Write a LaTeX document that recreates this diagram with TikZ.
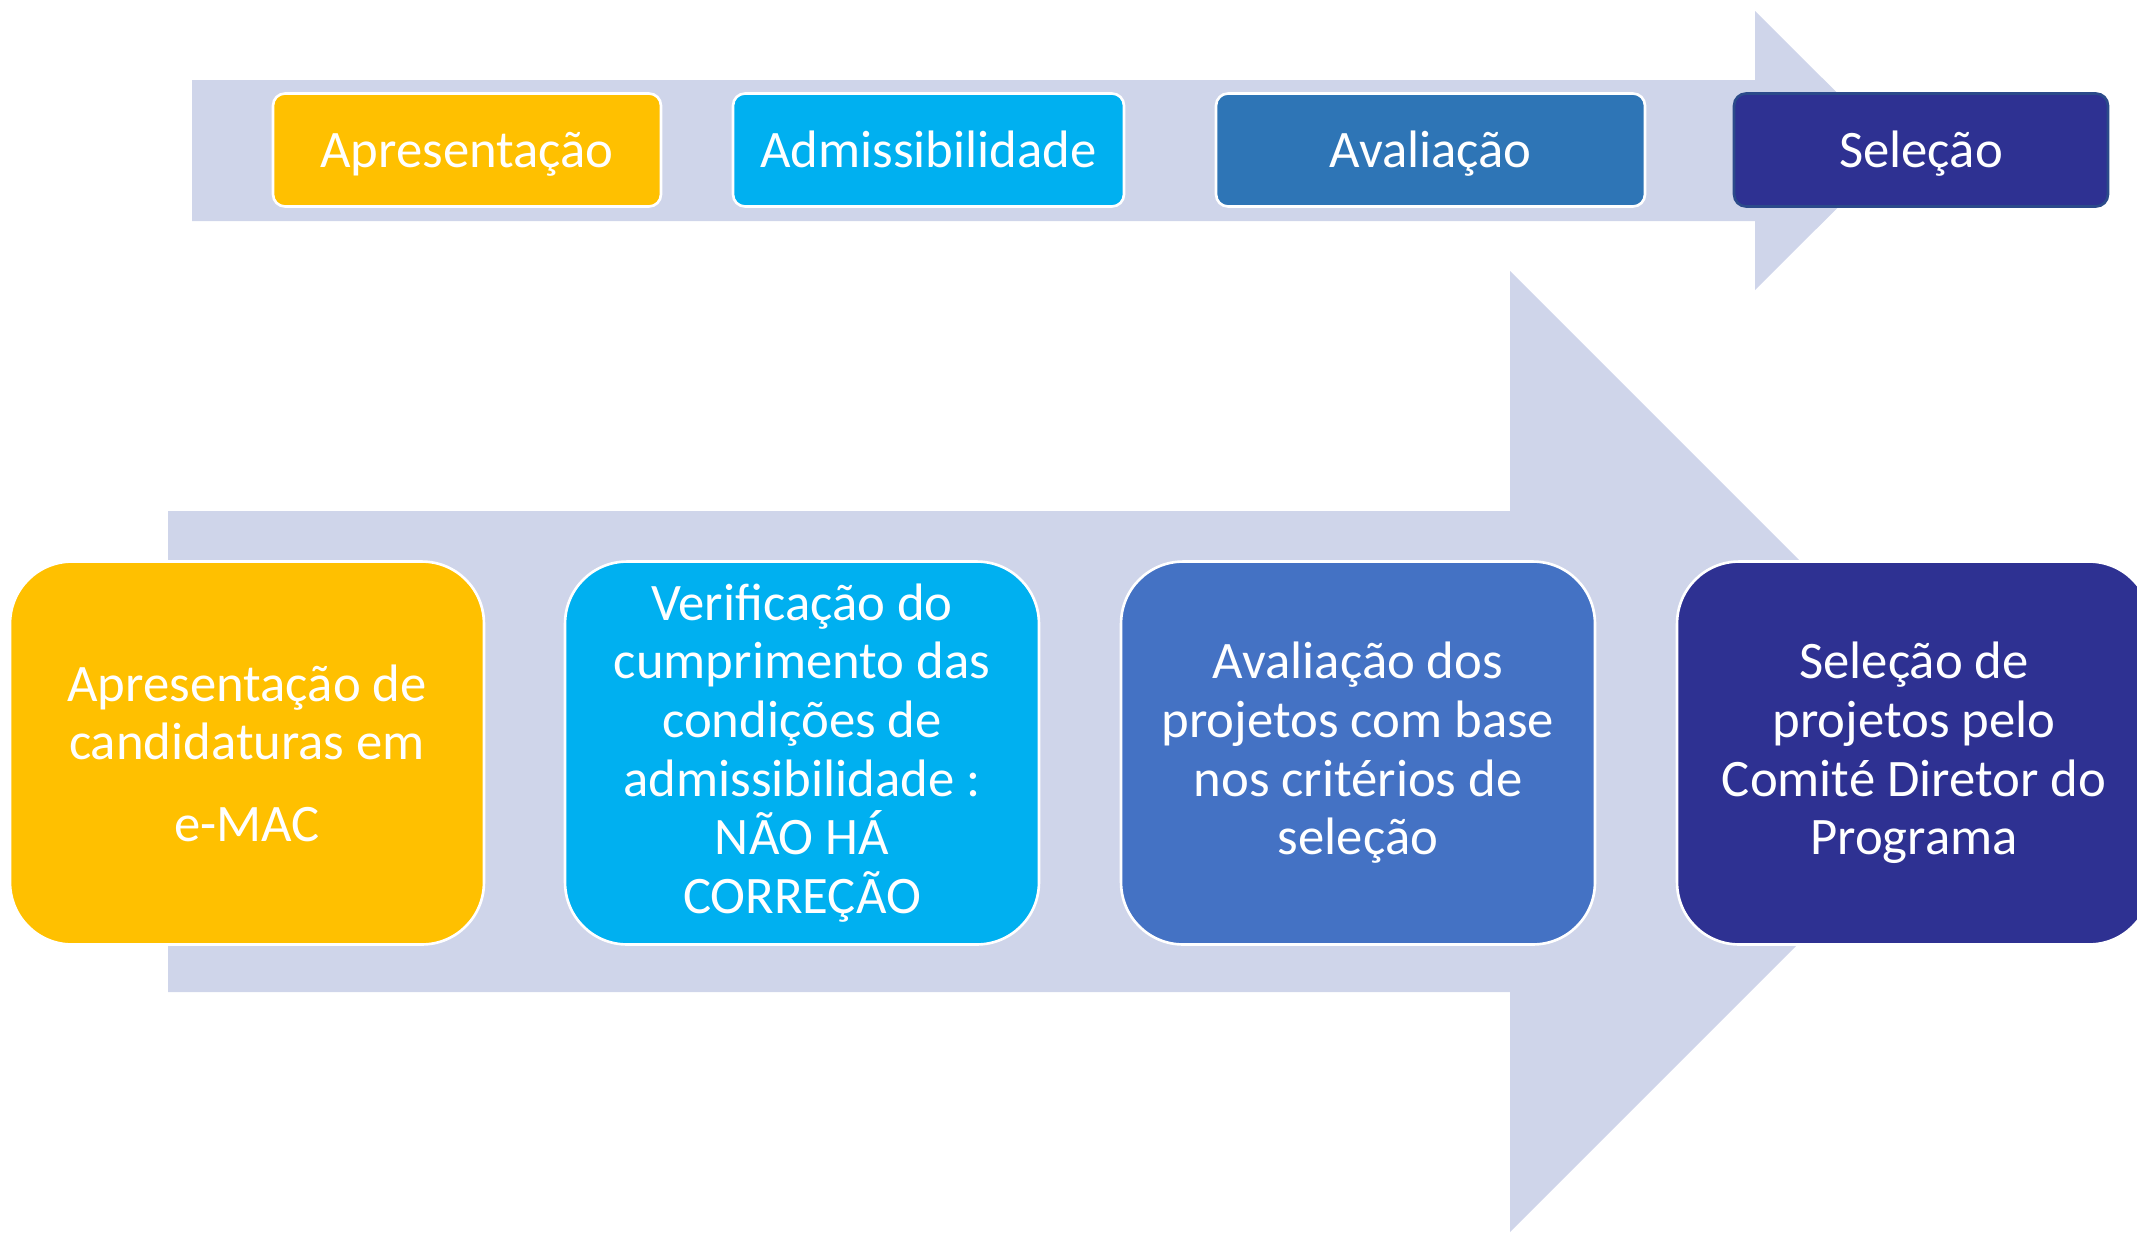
\documentclass[tikz,border=0pt]{standalone}
\usepackage{fontspec}
\setmainfont{Carlito}
\usepackage{tikz}
\usetikzlibrary{positioning}
\definecolor{seta}{HTML}{CFD5EA}
\definecolor{amarelo}{HTML}{FFC000}
\definecolor{ciano}{HTML}{00B0F0}
\definecolor{azul}{HTML}{2E75B6}
\definecolor{azulclaro}{HTML}{4472C4}
\definecolor{anil}{HTML}{2E3192}
\definecolor{contorno}{HTML}{2B4A8A}
\tikzset{fase/.style = {rounded corners = 0.24cm, line width = 1.5pt, text = white,
    minimum height = 2.26cm, inner sep = 0, text height = 21pt, text depth = 1pt,
    font = \fontsize{30}{34}\selectfont}}
\tikzset{etapa/.style = {rounded corners = 1.24cm, draw = white, line width = 1.5pt,
    text = white, minimum width = 9.48cm, minimum height = 7.66cm, inner sep = 0,
    align = center, font = \fontsize{30}{33.4}\selectfont}}

\begin{document}
\begin{tikzpicture}[x = 0.02cm, y = -0.02cm]
      \useasboundingbox (0, 0) rectangle (2137, 1232);
      \clip (0, 0) rectangle (2137, 1232);
      % seta de cima
      \fill [seta] (192, 80) -- (1755, 80) -- (1755, 11) -- (1895, 150.5)
        -- (1755, 290) -- (1755, 221) -- (192, 221) -- cycle;
      \foreach \x/\w/\c/\d/\t [count = \i] in {467/388/amarelo/white/Apresentação,
          928.5/391/ciano/white/Admissibilidade, 1430.5/429/azul/white/Avaliação,
          1921/374/anil/contorno/Seleção} {
        \node [fase, fill = \c, draw = \d, minimum width = \w*0.2mm] (fase\i) at (\x, 150) {\t};
      }
      % seta de baixo
      \fill [seta] (168, 511) -- (1510, 511) -- (1510, 271) -- (1990.5, 751.5)
        -- (1510, 1232) -- (1510, 992) -- (168, 992) -- cycle;
      \node [etapa, fill = amarelo] (etapa1) at (247, 753)
        {Apresentação de\\candidaturas em\\[13pt]e-MAC};
      \node [etapa, fill = ciano] (etapa2) at (802, 753)
        {Verificação do\\cumprimento das\\condições de\\admissibilidade :\\NÃO HÁ\\CORREÇÃO};
      \node [etapa, fill = azulclaro] (etapa3) at (1358, 753)
        {Avaliação dos\\projetos com base\\nos critérios de\\seleção};
      \node [etapa, fill = anil] (etapa4) at (1914, 753)
        {Seleção de\\projetos pelo\\Comité Diretor do\\Programa};
    \end{tikzpicture}
\end{document}
